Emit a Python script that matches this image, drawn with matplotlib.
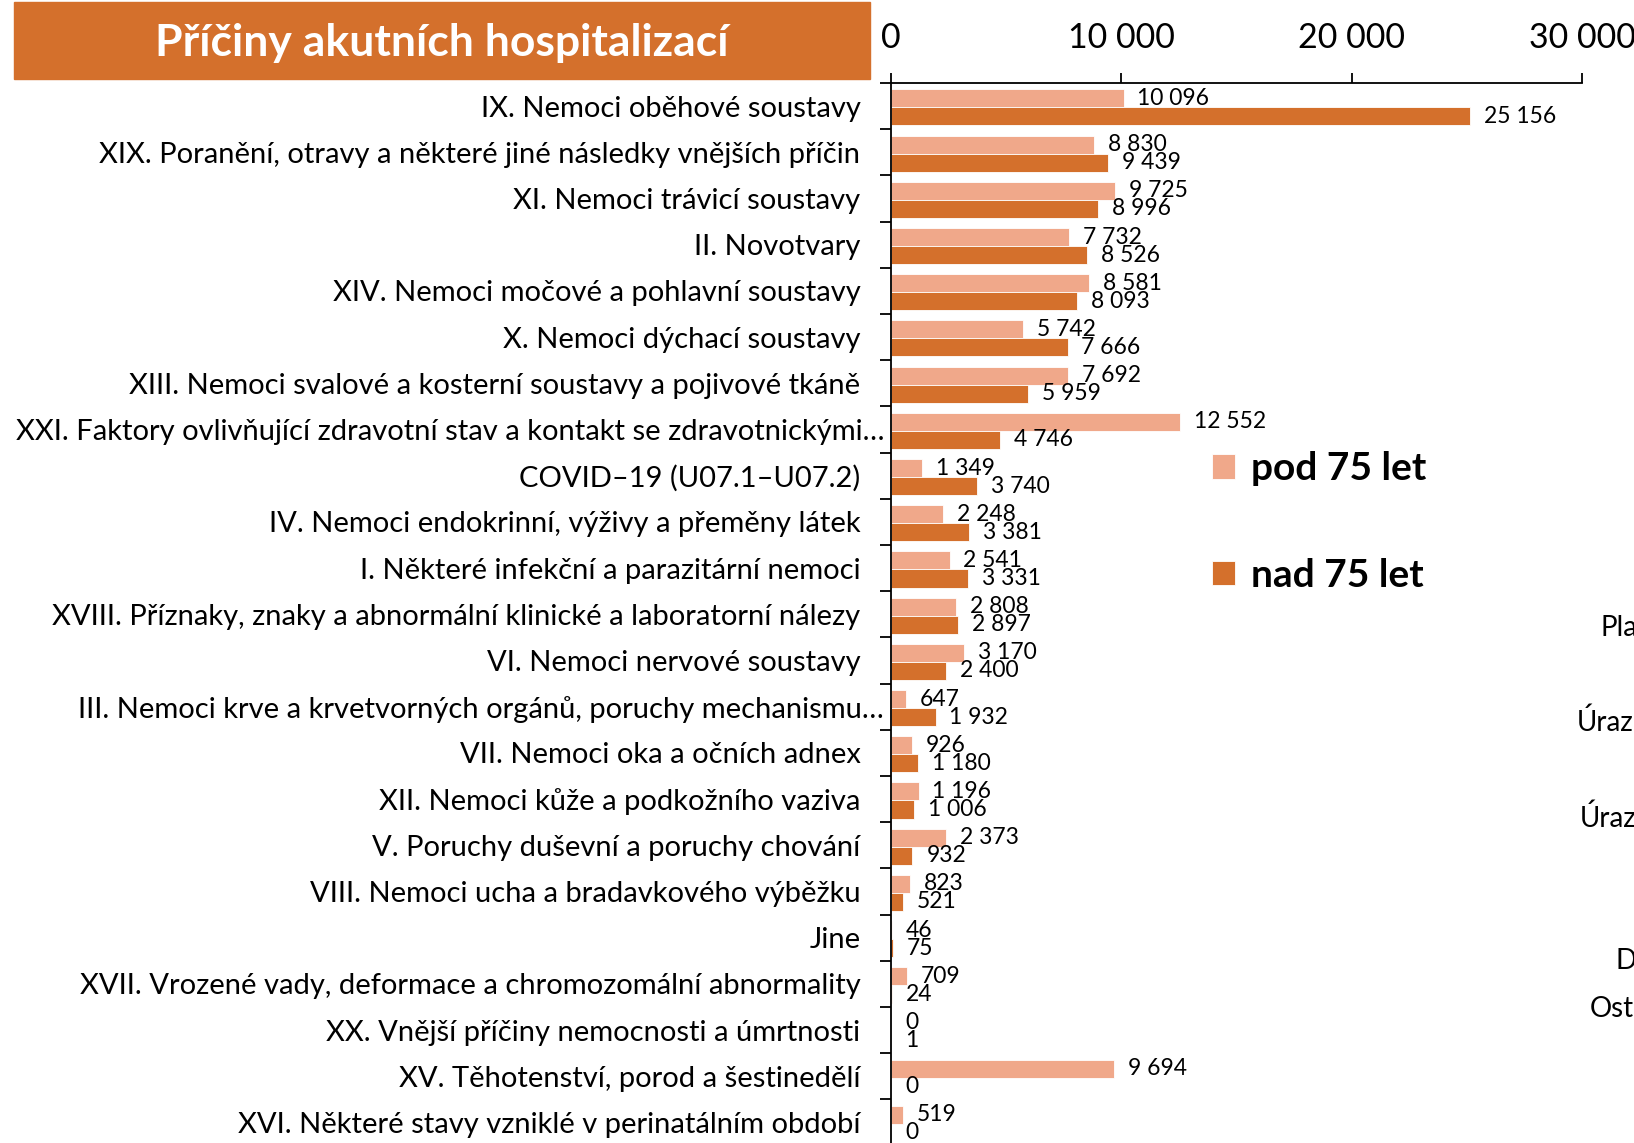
import numpy as np
import matplotlib.pyplot as plt
from matplotlib.patches import Rectangle

plt.rcParams['font.family'] = ['Lato', 'DejaVu Sans']

# Data
categories = [
    "IX. Nemoci oběhové soustavy",
    "XIX. Poranění, otravy a některé jiné následky vnějších příčin",
    "XI. Nemoci trávicí soustavy",
    "II. Novotvary",
    "XIV. Nemoci močové a pohlavní soustavy",
    "X. Nemoci dýchací soustavy",
    "XIII. Nemoci svalové a kosterní soustavy a pojivové tkáně",
    "XXI. Faktory ovlivňující zdravotní stav a kontakt se zdravotnickými…",
    "COVID–19 (U07.1–U07.2)",
    "IV. Nemoci endokrinní, výživy a přeměny látek",
    "I. Některé infekční a parazitární nemoci",
    "XVIII. Příznaky, znaky a abnormální klinické a laboratorní nálezy",
    "VI. Nemoci nervové soustavy",
    "III. Nemoci krve a krvetvorných orgánů, poruchy mechanismu…",
    "VII. Nemoci oka a očních adnex",
    "XII. Nemoci kůže a podkožního vaziva",
    "V. Poruchy duševní a poruchy chování",
    "VIII. Nemoci ucha a bradavkového výběžku",
    "Jine",
    "XVII. Vrozené vady, deformace a chromozomální abnormality",
    "XX. Vnější příčiny nemocnosti a úmrtnosti",
    "XV. Těhotenství, porod a šestinedělí",
    "XVI. Některé stavy vzniklé v perinatálním období",
]
pod75 = [10096, 8830, 9725, 7732, 8581, 5742, 7692, 12552, 1349, 2248, 2541,
         2808, 3170, 647, 926, 1196, 2373, 823, 46, 709, 0, 9694, 519]
nad75 = [25156, 9439, 8996, 8526, 8093, 7666, 5959, 4746, 3740, 3381, 3331,
         2897, 2400, 1932, 1180, 1006, 932, 521, 75, 24, 1, 0, 0]
series_names = ["pod 75 let", "nad 75 let"]
x_ticks = [0, 10000, 20000, 30000]
side_texts = ["Pla", "Úraz", "Úraz", "D", "Ost"]

light = "#F0A88A"
dark = "#D4702C"


def fmt(v):
    return f"{v:,}".replace(",", " ")


fig = plt.figure(figsize=(16.34, 11.43), dpi=100)
ax = fig.add_axes([0.5453, -0.0023, 0.4229, 0.9297])

y = np.arange(len(categories)) + 0.03
h = 0.39
b1 = ax.barh(y - h / 2, pod75, height=h, color=light, edgecolor="white",
             linewidth=0.6, label=series_names[0])
b2 = ax.barh(y + h / 2, nad75, height=h, color=dark, edgecolor="white",
             linewidth=0.6, label=series_names[1])
ax.bar_label(b1, labels=[fmt(v) for v in pod75], padding=10, fontsize=16.5)
ax.bar_label(b2, labels=[fmt(v) for v in nad75], padding=10, fontsize=16.5)

ax.set_xlim(0, 30000)
ax.set_ylim(len(categories) - 0.5, -0.5)

# x axis on top
ax.xaxis.tick_top()
ax.set_xticks(x_ticks)
ax.set_xticklabels([fmt(v) for v in x_ticks], fontsize=24.5)
ax.tick_params(axis="x", length=7, width=1.3, pad=14)

# y axis: tick marks between categories, labels at centres
ax.set_yticks(np.arange(len(categories) + 1) - 0.5)
ax.set_yticklabels([])
ax.tick_params(axis="y", which="major", length=8, width=1.3)
ax.set_yticks(np.arange(len(categories)), minor=True)
ax.set_yticklabels(categories, minor=True, fontsize=21)
ax.tick_params(axis="y", which="minor", length=0, pad=22)
for t, name in zip(ax.yaxis.get_minor_ticks(), categories):
    if name.endswith("…"):
        t.set_pad(5)

for s in ["right", "bottom"]:
    ax.spines[s].set_visible(False)
for s in ["top", "left"]:
    ax.spines[s].set_linewidth(1.3)

# legend
ax.legend(loc="upper left", bbox_to_anchor=(0.7417, 0.6055),
          bbox_transform=fig.transFigure, frameon=False,
          prop={"size": 28, "weight": "bold"}, handlelength=0.6,
          handleheight=0.6, handletextpad=0.4, labelspacing=1.85,
          borderpad=0, borderaxespad=0)

# title box
fig.patches.append(Rectangle((0.0083, 0.9309), 0.5242, 0.0674,
                             transform=fig.transFigure, color=dark, zorder=0))
fig.text(0.2705, 0.9625, "Příčiny akutních hospitalizací", color="white",
         fontsize=32, fontweight="bold", ha="center", va="center")

# text of the neighbouring chart, cut by the right edge
side_x = [0.9792, 0.9650, 0.9665, 0.9885, 0.9731]
side_y = [0.4506, 0.3683, 0.2843, 0.1593, 0.1172]
for t, sx, sy in zip(side_texts, side_x, side_y):
    fig.text(sx, sy, t, fontsize=20, ha="left", va="center")

fig.savefig("out.png", dpi=100)
